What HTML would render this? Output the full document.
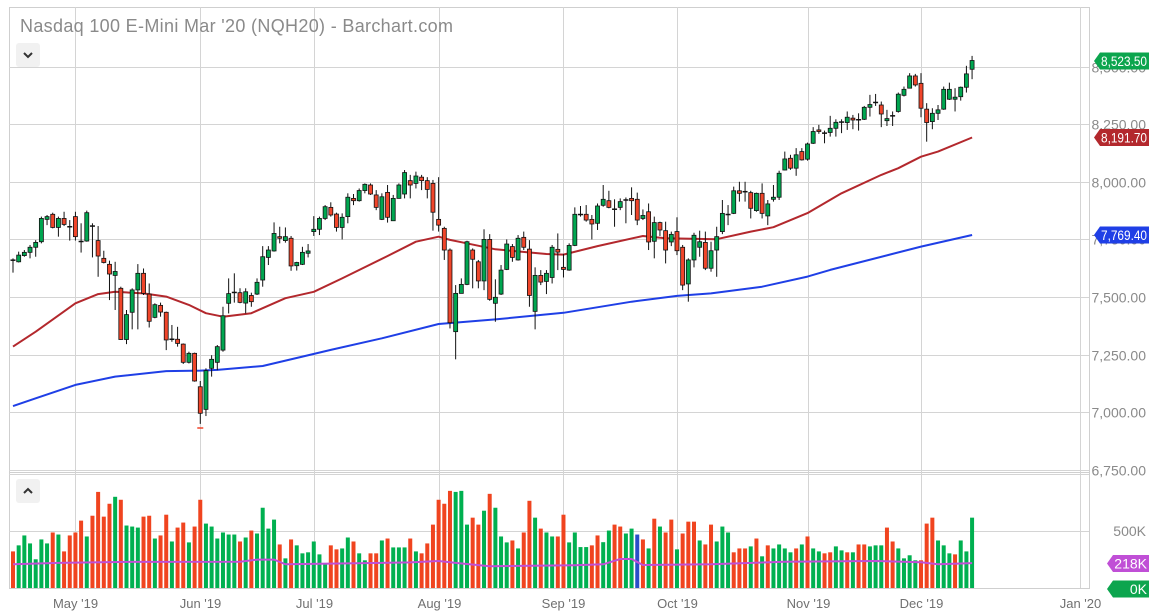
<!DOCTYPE html>
<html><head><meta charset="utf-8"><title>NQH20 chart</title>
<style>
html,body{margin:0;padding:0;background:#fff;}
svg{display:block;font-family:"Liberation Sans",sans-serif;}
</style></head>
<body>
<svg id="chart" width="1162" height="615" viewBox="0 0 1162 615" xmlns="http://www.w3.org/2000/svg">
<rect x="0" y="0" width="1162" height="615" fill="#fff"/>
<g id="grid"></g>
<g id="ma"></g>
<g id="candles"></g>
<g id="volume"></g>
<g id="axes"></g>
<text x="20" y="32" font-size="18" fill="#8a8a8a" textLength="433">Nasdaq 100 E-Mini Mar '20 (NQH20) - Barchart.com</text>
<g>
<rect x="16" y="43" width="24" height="24" rx="3" fill="#f1f1f1"/>
<path d="M24 53 L28 57 L32 53" stroke="#333" stroke-width="2" fill="none"/>
</g>
<g>
<rect x="16" y="479" width="24" height="24" rx="3" fill="#f1f1f1"/>
<path d="M24 493 L28 489 L32 493" stroke="#333" stroke-width="2" fill="none"/>
</g>
</svg>
<script>
const opens=[7658,7653,7680,7694,7716,7740,7837,7859,7802,7841,7805,7849,7741,7743,7808,7745,7668,7642,7594,7538,7316,7434,7531,7603,7513,7412,7464,7434,7317,7317,7296,7217,7256,7111,7013,7191,7217,7270,7473,7519,7519,7474,7507,7513,7574,7672,7700,7762,7745,7755,7636,7642,7690,7784,7794,7841,7889,7860,7802,7849,7928,7918,7962,7986,7943,7837,7954,7831,7928,7947,8005,7993,8020,8005,7993,7837,7798,7704,7350,7516,7555,7704,7653,7570,7750,7473,7513,7620,7719,7661,7759,7708,7438,7594,7568,7585,7707,7629,7617,7724,7858,7859,7837,7820,7898,7918,7881,7889,7921,7928,7924,7841,7870,7742,7823,7788,7739,7784,7716,7557,7661,7716,7737,7625,7704,7784,7857,7863,7961,7957,7953,7875,7950,7852,7924,7933,8051,8102,8059,8131,8098,8167,8225,8211,8214,8232,8258,8257,8276,8269,8271,8323,8343,8333,8265,8286,8305,8375,8406,8459,8427,8315,8261,8297,8315,8358,8358,8369,8410,8488];
const highs=[7668,7697,7704,7726,7747,7849,7856,7866,7849,7870,7834,7870,7820,7875,7820,7808,7701,7658,7653,7545,7444,7538,7643,7624,7559,7473,7476,7437,7379,7371,7299,7263,7259,7136,7191,7248,7292,7458,7581,7603,7538,7538,7519,7581,7721,7721,7824,7805,7802,7765,7653,7718,7730,7851,7849,7899,7911,7866,7863,7950,7947,7971,7993,7993,7964,7950,7986,7943,7993,8051,8030,8044,8030,8020,8008,8020,7805,7711,7552,7581,7744,7711,7661,7794,7773,7577,7639,7750,7730,7769,7784,7747,7629,7617,7617,7726,7776,7687,7733,7889,7895,7899,7856,7906,7986,7961,7924,7928,7932,7976,7953,7880,7906,7849,7827,7827,7784,7846,7726,7668,7779,7788,7784,7740,7805,7921,7899,7979,8000,8000,7961,7953,7993,7921,7986,8048,8131,8117,8146,8146,8170,8237,8247,8222,8286,8271,8271,8305,8290,8297,8329,8377,8381,8348,8312,8305,8387,8413,8471,8468,8471,8341,8319,8333,8413,8430,8406,8413,8503,8546];
const lows=[7606,7650,7675,7668,7675,7733,7812,7798,7762,7808,7745,7745,7693,7740,7672,7588,7646,7487,7444,7314,7296,7360,7360,7509,7368,7408,7415,7270,7306,7285,7210,7212,7133,6950,6984,7155,7183,7263,7429,7476,7473,7429,7458,7509,7545,7639,7697,7733,7736,7614,7615,7639,7672,7765,7769,7834,7849,7784,7750,7820,7899,7914,7950,7943,7877,7834,7823,7830,7928,7928,7928,7971,7964,7928,7788,7784,7661,7364,7230,7516,7552,7538,7538,7530,7484,7393,7509,7617,7653,7658,7704,7458,7360,7552,7513,7559,7617,7585,7614,7721,7849,7827,7750,7791,7892,7885,7805,7877,7820,7856,7812,7834,7704,7668,7765,7646,7721,7682,7530,7480,7629,7675,7617,7610,7588,7773,7812,7860,7914,7914,7841,7870,7841,7812,7914,7921,8049,8052,8026,8092,8092,8164,8208,8167,8196,8196,8211,8225,8228,8222,8268,8283,8329,8237,8242,8242,8300,8370,8406,8413,8280,8174,8228,8268,8312,8355,8305,8352,8387,8445];
const closes=[7660,7682,7694,7716,7737,7841,7849,7802,7841,7815,7803,7762,7740,7866,7806,7678,7650,7600,7611,7316,7424,7531,7603,7516,7395,7467,7435,7314,7316,7299,7217,7256,7136,6996,7181,7230,7285,7419,7515,7520,7477,7523,7480,7564,7675,7704,7776,7755,7762,7635,7650,7694,7700,7794,7841,7892,7856,7802,7846,7933,7918,7962,7989,7947,7889,7935,7846,7928,7986,8040,7986,8025,8005,7967,7868,7812,7704,7389,7516,7555,7740,7664,7570,7750,7490,7499,7617,7730,7672,7755,7716,7507,7594,7565,7603,7716,7695,7620,7724,7859,7857,7834,7817,7895,7924,7889,7880,7914,7920,7918,7834,7854,7739,7823,7791,7704,7772,7701,7552,7661,7768,7740,7625,7701,7762,7863,7858,7961,7950,7956,7885,7950,7863,7904,7933,8037,8099,8059,8117,8095,8164,8218,8218,8210,8232,8258,8259,8280,8268,8268,8323,8335,8344,8294,8274,8285,8380,8401,8459,8420,8319,8257,8297,8312,8401,8401,8367,8410,8468,8526];
const volumes=[321,374,461,391,252,426,391,487,469,321,461,487,591,452,634,843,626,739,800,774,548,539,530,626,634,434,461,643,408,530,574,400,539,774,565,539,434,487,469,469,408,443,504,478,704,521,600,382,260,426,374,304,313,408,295,208,374,339,347,443,408,304,243,304,304,417,434,356,356,356,434,321,304,391,556,774,739,852,843,852,556,617,556,678,826,704,452,400,417,347,487,765,617,521,487,452,452,643,400,487,359,359,374,461,402,504,556,539,478,521,469,426,347,608,539,487,600,339,478,582,582,417,382,556,408,539,487,313,347,347,365,434,278,374,347,382,347,313,347,382,452,347,321,304,313,365,330,313,313,382,382,365,374,374,530,408,347,260,287,243,243,565,617,417,374,304,295,417,321,617];
const volDirection="rgggggg rgrrrrgrrrrgrgggrrgrrgrrgrrggggggrgrggggrgrggggggrrggrggrrgrgggrgrrrrrrgggrrgrgggrgrrgrggrrgg".replace(/ /g,'')+"ggrrggrrggbrgrgrrgrrrgrrgggrrrgrgrggggrgrggrrggrgrrgggrrggggrrrgggrggg";
const ma50Idx=[0,4,11,15,18,23,27,31,34,37,42,48,53,58,66,71,75,77,79,85,94,97,103,111,115,124,130,134,140,146,153,156,160,163,169];
const ma50Val=[7285,7350,7473,7513,7523,7516,7502,7466,7430,7415,7430,7495,7523,7581,7678,7740,7762,7748,7738,7707,7687,7684,7721,7765,7755,7751,7784,7803,7864,7950,8030,8059,8109,8131,8192];
const ma200Idx=[0,4,11,18,27,33,36,44,51,56,65,75,85,97,109,117,123,132,140,144,160,169];
const ma200Val=[7027,7061,7119,7155,7179,7181,7184,7201,7242,7271,7321,7383,7403,7432,7480,7505,7516,7545,7589,7618,7719,7769];
const vavgIdx=[0,8,20,40,43,46,48,70,75,78,84,99,104,107,109,111,123,136,152,160,163,169];
const vavgVal=[208,220,229,231,249,249,208,225,237,220,191,200,208,254,254,202,208,231,237,226,208,218];
const priceTicks=[8500,8250,8000,7750,7500,7250,7000,6750];
const priceTickLabels=["8,500.00","8,250.00","8,000.00","7,750.00","7,500.00","7,250.00","7,000.00","6,750.00"];
const monthIdx=[11,33,53,75,97,117,140,160,188];
const monthLabels=["May '19","Jun '19","Jul '19","Aug '19","Sep '19","Oct '19","Nov '19","Dec '19","Jan '20"];

const NS="http://www.w3.org/2000/svg";
const X0=13, DX=5.675, PL=9, PR=1089, PT=7, PB=471, VB=588;
function xOf(i){return X0+i*DX;}
function yOf(p){return 66.5+(8500-p)*(403.5/1750);}
function vyOf(v){return VB-v*(57/500);}
function mk(tag,attrs,parent){const e=document.createElementNS(NS,tag);for(const k in attrs)e.setAttribute(k,attrs[k]);parent.appendChild(e);return e;}
const grid=document.getElementById('grid'),cg=document.getElementById('candles'),mg=document.getElementById('ma'),vg=document.getElementById('volume'),ag=document.getElementById('axes');

let f=mk('rect',{x:PL+0.5,y:PT+0.5,width:PR-PL,height:VB-PT,fill:'none',stroke:'#cfcfcf'},grid);


let d=mk('line',{x1:PL,x2:PR,y1:PB+1.5,y2:PB+1.5,stroke:'#cfcfcf'},grid);


priceTicks.forEach((p,k)=>{
  const y=Math.round(yOf(p))+0.5;
  const l=mk('line',{x1:PL,x2:PR,y1:y,y2:y,stroke:'#d4d4d4'},grid);
  
  
  const t=mk('text',{x:1146,y:y+5,'text-anchor':'end','font-size':'14',fill:'#8a8a8a'},ag);
  t.textContent=priceTickLabels[k];
  
  
});
[500,1000].forEach(v=>{
  const y=Math.round(vyOf(v))+0.5;
  const l=mk('line',{x1:PL,x2:PR,y1:y,y2:y,stroke:'#d4d4d4'},grid);
  
  
});
let vt=mk('text',{x:1146,y:vyOf(500)+5,'text-anchor':'end','font-size':'14',fill:'#8a8a8a'},ag);
vt.textContent='500K';


monthIdx.forEach((m,k)=>{
  const x=Math.round(xOf(m))+0.5;
  const l=mk('line',{x1:x,x2:x,y1:PT,y2:VB,stroke:'#d4d4d4'},grid);
  
  
  const t=mk('text',{x:x,y:608,'text-anchor':'middle','font-size':'13',fill:'#707070'},ag);
  t.textContent=monthLabels[k];
  
  
});

function line(idx,val,color,name){
  const pts=idx.map((i,k)=>xOf(i).toFixed(1)+','+yOf(val[k]).toFixed(1)).join(' ');
  const p=mk('polyline',{points:pts,fill:'none',stroke:color,'stroke-width':'2','stroke-linejoin':'round'},mg);
  
  
}
line(ma50Idx,ma50Val,'#b3282d','ma-50-line');
line(ma200Idx,ma200Val,'#1f3fe6','ma-200-line');

opens.forEach((o,i)=>{
  const c=closes[i],x=xOf(i);
  const g=mk('g',{},cg);
  
  
  mk('line',{x1:x,x2:x,y1:yOf(highs[i]),y2:yOf(lows[i]),stroke:'#111','stroke-width':'1'},g);
  const top=yOf(Math.max(o,c)),bot=yOf(Math.min(o,c));
  const h=Math.max(bot-top,1);
  if(h<=1.5){mk('line',{x1:x-2.5,x2:x+2.5,y1:top,y2:top,stroke:'#111','stroke-width':'1.5'},g);}
  else mk('rect',{x:x-2,y:top,width:4,height:h,fill:c>=o?'#00a650':'#f0452a',stroke:'#111','stroke-width':'0.8'},g);
});
let lm=mk('line',{x1:xOf(33)-3,x2:xOf(33)+3,y1:428,y2:428,stroke:'#f0452a','stroke-width':'1.5'},cg);



const volColor={r:'#f0441f',g:'#00b050',b:'#2a4fc8'};
volumes.forEach((v,i)=>{
  const x=xOf(i);
  const col=volColor[volDirection[i]]||(closes[i]>=opens[i]?'#00b050':'#f0441f');
  const r=mk('rect',{x:x-2,y:vyOf(v),width:4,height:VB-vyOf(v),fill:col},vg);
  
  
});
const vpts=vavgIdx.map((i,k)=>xOf(i).toFixed(1)+','+vyOf(vavgVal[k]).toFixed(1)).join(' ');
let va=mk('polyline',{points:vpts,fill:'none',stroke:'#c04fd6','stroke-width':'2'},vg);



function tag(yc,text,color,name,x0){
  const g=mk('g',{},ag);
  
  
  const x1=1149,h=17;
  mk('polygon',{points:`${x0},${yc} ${x0+6},${yc-h/2} ${x1},${yc-h/2} ${x1},${yc+h/2} ${x0+6},${yc+h/2}`,fill:color},g);
  const w=x1-x0-9;
  const t=mk('text',{x:x1-2,y:yc+5,'text-anchor':'end','font-size':'14',fill:'#fff'},g);
  if(text.length>4){t.setAttribute('textLength',w);t.setAttribute('lengthAdjust','spacingAndGlyphs');}
  t.textContent=text;
}
tag(61,'8,523.50','#0ca54e','last-price-tag',1094);
tag(137.5,'8,191.70','#b3282d','ma-50-tag',1094);
tag(235,'7,769.40','#1f3fe6','ma-200-tag',1094);
tag(563.5,'218K','#c04fd6','volume-average-tag',1107);
tag(589,'0K','#0ca54e','volume-last-tag',1107);
</script>
</body></html>
